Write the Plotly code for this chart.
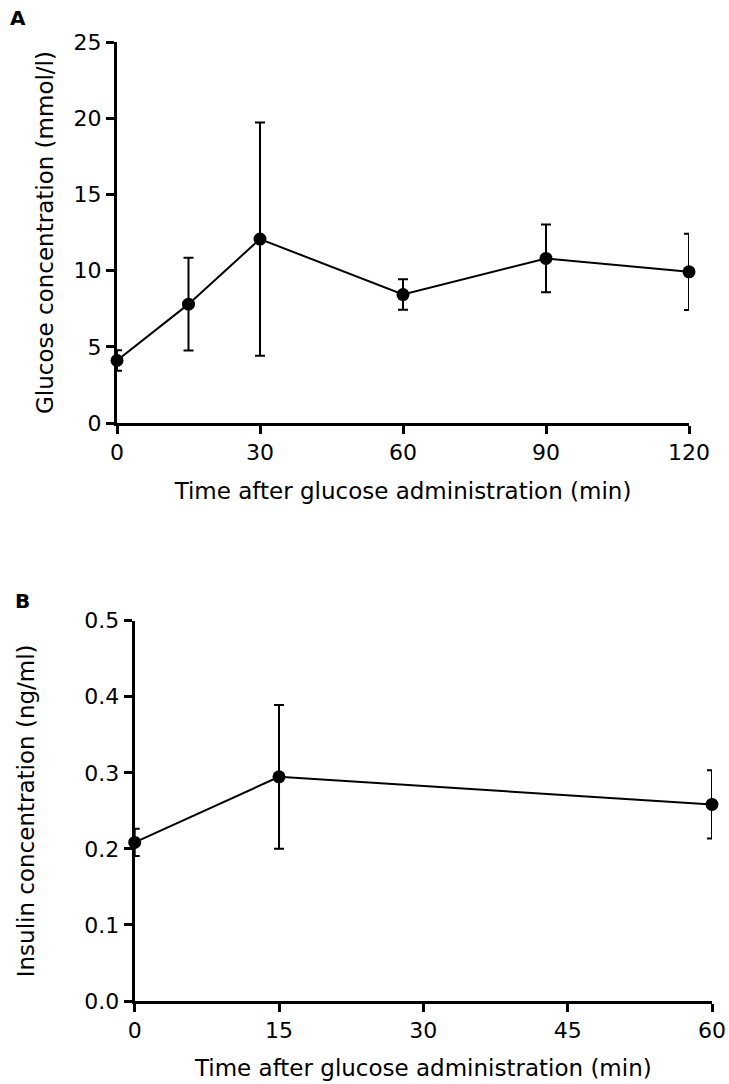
import plotly.graph_objects as go

# Panel A: glucose
time_a = [0, 15, 30, 60, 90, 120]
glucose = [4.1, 7.8, 12.07, 8.43, 10.8, 9.92]
glucose_err = [0.67, 3.05, 7.65, 1.0, 2.22, 2.5]
xticks_a = [0, 30, 60, 90, 120]
yticks_a = [0, 5, 10, 15, 20, 25]

# Panel B: insulin
time_b = [0, 15, 60]
insulin = [0.2085, 0.2947, 0.2585]
insulin_err = [0.018, 0.0945, 0.045]
xticks_b = [0, 15, 30, 45, 60]
yticks_b = [0.0, 0.1, 0.2, 0.3, 0.4, 0.5]

FONT = "DejaVu Sans"
W, H = 729, 1084
TICK = 22
TITLE = 23

fig = go.Figure()

def add_series(x, y, err, xa, ya):
    fig.add_trace(go.Scatter(
        x=x, y=y, xaxis=xa, yaxis=ya, mode="lines+markers",
        line=dict(color="black", width=2),
        marker=dict(color="black", size=13),
        error_y=dict(type="data", array=err, visible=True, color="black",
                     thickness=2, width=5),
        cliponaxis=False, showlegend=False,
    ))

add_series(time_a, glucose, glucose_err, "x", "y")
add_series(time_b, insulin, insulin_err, "x2", "y2")

axis_common = dict(
    showline=True, linecolor="black", linewidth=3,
    ticks="outside", ticklen=8, tickwidth=3, tickcolor="black",
    showgrid=False, zeroline=False, automargin=False,
    tickfont=dict(family=FONT, size=TICK, color="black"),
)

fig.update_layout(
    width=W, height=H,
    margin=dict(l=0, r=0, t=0, b=0),
    paper_bgcolor="white", plot_bgcolor="white",
    font=dict(family=FONT, color="black"),
    xaxis=dict(domain=[117/W, 689/W], range=[0, 120], tickvals=xticks_a,
               anchor="y",
               title=dict(text="Time after glucose administration (min)",
                          font=dict(family=FONT, size=TITLE), standoff=19),
               **axis_common),
    yaxis=dict(domain=[1-423/H, 1-42/H], range=[0, 25], tickvals=yticks_a,
               anchor="x",
               title=dict(text="Glucose concentration (mmol/l)",
                          font=dict(family=FONT, size=TITLE), standoff=14),
               **axis_common),
    xaxis2=dict(domain=[134.7/W, 712/W], range=[0, 60], tickvals=xticks_b,
                anchor="y2",
                title=dict(text="Time after glucose administration (min)",
                           font=dict(family=FONT, size=TITLE), standoff=18),
                **axis_common),
    yaxis2=dict(domain=[1-1001/H, 1-620.7/H], range=[0, 0.5], tickvals=yticks_b,
                tickformat=".1f", anchor="x2",
                title=dict(text="Insulin concentration (ng/ml)",
                           font=dict(family=FONT, size=TITLE), standoff=44),
                **axis_common),
    annotations=[
        dict(text="<b>A</b>", x=18/W, y=1-18/H, xref="paper", yref="paper",
             showarrow=False, font=dict(family=FONT, size=20, color="black"),
             xanchor="center", yanchor="middle"),
        dict(text="<b>B</b>", x=22/W, y=1-601/H, xref="paper", yref="paper",
             showarrow=False, font=dict(family=FONT, size=20, color="black"),
             xanchor="center", yanchor="middle"),
    ],
)

fig.write_html("out.html")
